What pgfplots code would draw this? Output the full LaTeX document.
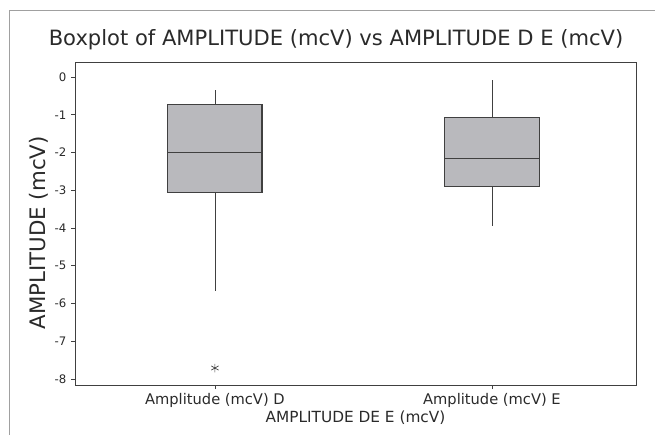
\documentclass[border=0pt]{standalone}
\usepackage{fontspec}
\setmainfont{DejaVu Sans}
\usepackage{pgfplots}
\pgfplotsset{compat=1.18}
\definecolor{boxfill}{HTML}{B9B9BD}
\definecolor{edge}{HTML}{404040}
\definecolor{framegray}{HTML}{A0A0A0}
\definecolor{txt}{HTML}{2A2A2A}
\begin{document}
\begin{tikzpicture}
\path[use as bounding box] (0pt,0pt) rectangle (491.25pt,326.25pt);
\draw[framegray, line width=0.9pt] (7.1pt,0pt) -- (7.1pt,318.4pt) -- (491.25pt,318.4pt);
\node[txt, font=\fontsize{15.8}{18}\selectfont] at (252pt,296.25pt) {Boxplot of AMPLITUDE (mcV) vs AMPLITUDE D E (mcV)};
\begin{axis}[
  at={(56.25pt,37.5pt)}, anchor=south west,
  scale only axis, width=420.75pt, height=242.25pt,
  xmin=0.495, xmax=2.52, ymin=-8.16, ymax=0.4,
  xtick={1,2}, xticklabels={Amplitude (mcV) D, Amplitude (mcV) E},
  ytick={-8,-7,...,0},
  tick align=outside, tick pos=left,
  major tick length=3pt,
  axis line style={edge, line width=0.65pt},
  every tick/.style={edge, line width=0.6pt},
  /pgf/number format/assume math mode=true,
  ticklabel style={txt, font=\fontsize{8.8}{10}\selectfont},
  xticklabel style={font=\fontsize{11}{13}\selectfont},
  xlabel={AMPLITUDE DE E (mcV)},
  xlabel style={txt, font=\fontsize{11.5}{13}\selectfont, yshift=5pt},
  ylabel={AMPLITUDE (mcV)},
  ylabel style={txt, font=\fontsize{16}{18}\selectfont, yshift=-2pt, xshift=-7pt},
  clip=false,
]
% Amplitude (mcV) D
\addplot[fill=boxfill, draw=edge, line width=0.8pt] coordinates {(0.83,-3.07) (1.17,-3.07) (1.17,-0.72) (0.83,-0.72)} -- cycle;
\addplot[edge, line width=0.9pt] coordinates {(0.83,-2.00) (1.17,-2.00)};
\addplot[edge, line width=0.6pt] coordinates {(1,-0.72) (1,-0.34)};
\addplot[edge, line width=0.6pt] coordinates {(1,-3.07) (1,-5.67)};
\addplot[only marks, mark=asterisk, mark options={edge, scale=1.6, line width=0.5pt}] coordinates {(1,-7.71)};
% Amplitude (mcV) E
\addplot[fill=boxfill, draw=edge, line width=0.8pt] coordinates {(1.83,-2.91) (2.17,-2.91) (2.17,-1.06) (1.83,-1.06)} -- cycle;
\addplot[edge, line width=0.9pt] coordinates {(1.83,-2.16) (2.17,-2.16)};
\addplot[edge, line width=0.6pt] coordinates {(2,-1.06) (2,-0.09)};
\addplot[edge, line width=0.6pt] coordinates {(2,-2.91) (2,-3.95)};
\end{axis}
\end{tikzpicture}
\end{document}
